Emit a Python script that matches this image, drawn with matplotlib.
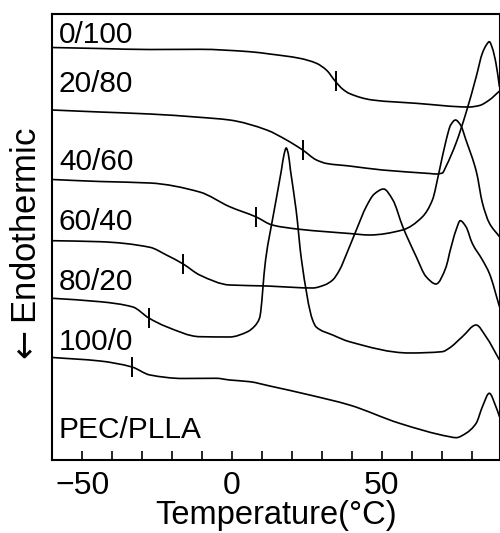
import matplotlib
matplotlib.use("Agg")
import matplotlib.pyplot as plt
from matplotlib.path import Path
from matplotlib.patches import PathPatch
import numpy as np

plt.rcParams['font.family'] = ['Liberation Sans', 'DejaVu Sans']

# DSC heating traces of PEC/PLLA blends (temperature in degC, heat flow in arbitrary units)
t_0_100 = [-60, -44.1, -27.4, -10.8, 5.9, 12.6, 22.6, 28.2, 31.5, 34.6, 36.9, 39.2, 46.9,
           61.5, 79.2, 82.6, 85.9, 89.3]
y_0_100 = [412.5, 411.5, 410.5, 410.7, 408.3, 406, 401.7, 396.7, 390, 378.3, 371, 366.5, 360,
           356.7, 353, 354.5, 360, 369]

t_20_80 = [-60, -44.1, -27.4, -10.8, -0.8, 11.6, 18.2, 23.6, 28.2, 31.6, 39.2, 50.2, 66.0,
           68.1, 70.2, 71.5, 74.8, 78.1, 81.5, 83.6, 84.9, 85.9, 86.9, 88.1, 89.3]
y_20_80 = [350, 348, 346, 342.7, 340, 330, 320, 310, 300, 296.5, 294, 290, 286.5,
           286, 287, 294, 317, 347, 383, 407, 415, 418.3, 412, 397, 373]

t_40_60 = [-60, -44.1, -27.4, -10.8, -0.8, 8.1, 13.4, 22.6, 39.2, 45.9, 56.9, 63.6, 66.9,
           69.2, 71.5, 73.0, 74.6, 76.3, 78.1, 81.6, 83.6, 85.9, 89.3]
y_40_60 = [280.5, 278.5, 277, 268, 253.3, 243, 235, 230.7, 226.5, 225, 230, 243.3, 260,
           289, 320, 335, 340, 335, 320, 288, 257, 237, 223.3]

t_60_40 = [-60, -44.1, -27.4, -21.9, -16.3, -10.8, -0.8, 11.6, 14.9, 26.9, 30.9, 33.6, 35.9,
           38.5, 41.5, 44.8, 47.5, 50.6, 53.7, 57.0, 61.5, 64.8, 68.1, 71.5, 72.6,
           74.8, 76.2, 78.1, 80.2, 83.6, 85.9, 89.3]
y_60_40 = [219.3, 218.3, 212.7, 205, 196, 185, 175, 174, 173.5, 172, 175, 180, 190,
           208, 230, 253.3, 266, 271, 260, 233.3, 203.3, 183.3, 176, 193.3, 206.7,
           230, 239.3, 233.3, 216.7, 200, 186.7, 153.3]

t_80_20 = [-60, -44.1, -33.1, -27.8, -21.9, -10.8, -0.8, 5.2, 7.6, 9.2, 11.2, 14.1, 16.5,
           17.4, 18.1, 18.8, 19.5, 21.4, 23.2, 26.9, 28.1, 33.6, 39.2, 59.2, 70.2, 72.6,
           76.9, 81.5, 84.8, 89.3]
y_80_20 = [161.7, 158.3, 153, 142, 133.3, 123.3, 123, 128.3, 134, 142, 200, 250, 290,
           306, 312, 306, 290, 250, 200, 140, 133, 125, 118.3, 107, 108.3, 112,
           123.3, 135, 123.3, 100]

t_100_0 = [-60, -44.1, -33.4, -27.4, -16.4, -5.3, -0.8, 5.9, 12.6, 25.9, 39.2, 55.9, 72.6,
           74.8, 78.1, 81.5, 83.6, 85.9, 88.1, 89.3]
y_100_0 = [102.5, 99, 93, 85, 81.5, 81.7, 80, 78.3, 74, 65, 55, 36.7, 23.3,
           22.3, 26.7, 36.7, 53.3, 66.7, 53.3, 43.3]

curves_t = [t_0_100, t_20_80, t_40_60, t_60_40, t_80_20, t_100_0]
curves_y = [y_0_100, y_20_80, y_40_60, y_60_40, y_80_20, y_100_0]

# glass transition marks
tg_t = [34.6, 23.6, 8.1, -16.3, -27.8, -33.4]
tg_y = [379, 310, 243, 196, 142, 93]

labels = ['0/100', '20/80', '40/60', '60/40', '80/20', '100/0', 'PEC/PLLA']
label_y = [417, 368.3, 290, 230, 170, 110, 21.7]


def smooth_path(xs, ys):
    # monotone cubic (Fritsch-Carlson) through the read points, drawn as Bezier segments
    x = np.asarray(xs, float)
    y = np.asarray(ys, float)
    h = np.diff(x)
    d = np.diff(y) / h
    m = np.zeros_like(y)
    m[0], m[-1] = d[0], d[-1]
    for k in range(1, len(x) - 1):
        if d[k - 1] * d[k] > 0:
            w1 = 2 * h[k] + h[k - 1]
            w2 = h[k] + 2 * h[k - 1]
            m[k] = (w1 + w2) / (w1 / d[k - 1] + w2 / d[k])
    verts = [(x[0], y[0])]
    codes = [Path.MOVETO]
    for k in range(len(x) - 1):
        verts += [(x[k] + h[k] / 3, y[k] + m[k] * h[k] / 3),
                  (x[k + 1] - h[k] / 3, y[k + 1] - m[k + 1] * h[k] / 3),
                  (x[k + 1], y[k + 1])]
        codes += [Path.CURVE4] * 3
    return Path(verts, codes)


fig = plt.figure(figsize=(5, 5.33), dpi=100)
ax = fig.add_axes([0.1046, 0.137, 0.8944, 0.8367])

for t, y in zip(curves_t, curves_y):
    ax.add_patch(PathPatch(smooth_path(t, y), facecolor='none', edgecolor='black', lw=1.2))

ax.plot(tg_t, tg_y, ls='none', marker='|', markersize=14, mew=1.4, color='black')

for lab, ly in zip(labels, label_y):
    ax.text(-57.8, ly, lab, fontsize=21.5, va='baseline', ha='left')

ax.set_xlim(-60, 89.3)
ax.set_ylim(0, 446)
ax.set_xticks([-50, 0, 50])
ax.set_xticklabels(['\u221250', '0', '50'])
ax.set_xticks(range(-60, 90, 10), minor=True)
ax.set_yticks([])
ax.tick_params(axis='x', which='both', direction='in', length=6.5, width=1.2,
               labelsize=23, pad=8)
for s in ax.spines.values():
    s.set_linewidth(1.5)

fig.text(0.552, 0.016, 'Temperature(\u00b0C)', fontsize=23.5, ha='center', va='baseline')
fig.text(0.054, 0.538, r'$\leftarrow$Endothermic', fontsize=25, rotation=90,
         ha='center', va='center')

fig.savefig('out.png', dpi=100)
